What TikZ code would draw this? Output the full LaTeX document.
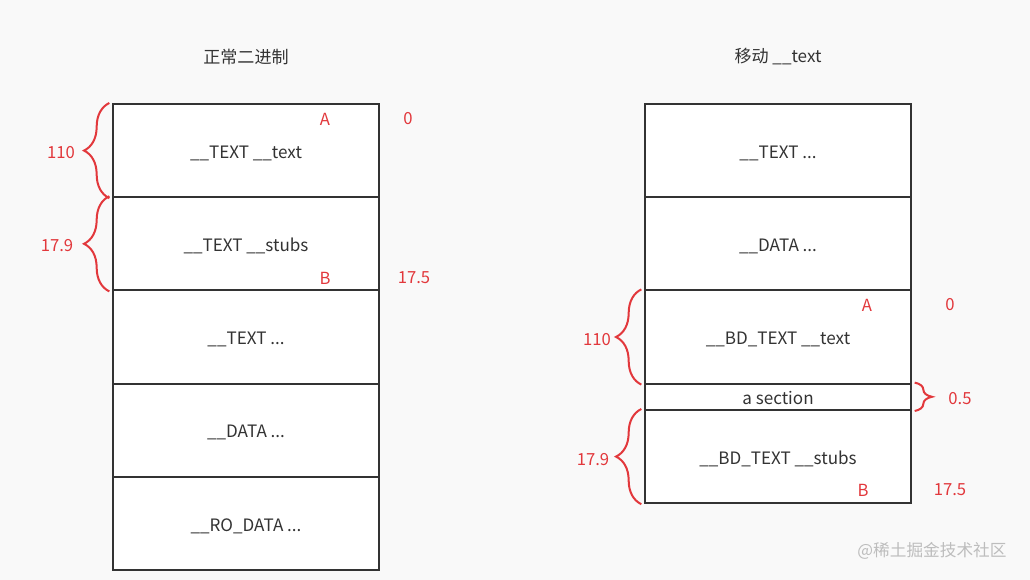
\documentclass[tikz,border=0pt]{standalone}
\usepackage{fontspec}
\setmainfont{Noto Sans CJK SC}
\usetikzlibrary{positioning,decorations.pathreplacing}
\definecolor{lineGray}{HTML}{333333}
\definecolor{markRed}{HTML}{E2383C}
\definecolor{bgGray}{HTML}{F9F9F9}
\definecolor{wmGray}{HTML}{BDBDBD}

\begin{document}
\begin{tikzpicture}[x=0.75pt,y=-0.75pt]
	\fill[bgGray] (0,0) rectangle (1030,580);
	\useasboundingbox (0,0) rectangle (1030,580);
		\begin{scope}
            [
                styleSeg/.style={
					draw=lineGray, line width=1.5pt, fill=white,
					minimum width=199.5pt, minimum height=#1, inner sep=0pt,
					text height=11.5pt, text depth=0pt,
					text=lineGray, font=\fontsize{12.8}{14}\selectfont
					},
				styleSeg/.default=69.9pt,
				styleTitle/.style={text=lineGray, font=\fontsize{12.8}{14}\selectfont},
				styleMark/.style={text=markRed, font=\fontsize{12.5}{14}\selectfont, inner sep=0pt},
            ]
			% normal binary
			\node(tTitleL)[styleTitle] at (246,57) {正常二进制};
			\node(lText)[styleSeg] at (246,150.6) {\_\_TEXT \_\_text};
			\node(lStubs)[styleSeg] at (246,243.8) {\_\_TEXT \_\_stubs};
			\node(lTextEtc)[styleSeg] at (246,337) {\_\_TEXT ...};
			\node(lData)[styleSeg] at (246,430.2) {\_\_DATA ...};
			\node(lRoData)[styleSeg] at (246,523.4) {\_\_RO\_DATA ...};

			\node(lA)[styleMark] at (325,119) {A};
			\node(lZero)[styleMark] at (408,119) {0};
			\node(lB)[styleMark] at (325,278) {B};
			\node(lEnd)[styleMark] at (414,278) {17.5};
			\node(lSize1)[styleMark] at (61,153) {110};
			\node(lSize2)[styleMark] at (57,246) {17.9};

			% moved __text
			\node(tTitleR)[styleTitle] at (778,57) {移动 \_\_text};
			\node(rText)[styleSeg] at (778,150.6) {\_\_TEXT ...};
			\node(rData)[styleSeg] at (778,243.8) {\_\_DATA ...};
			\node(rBdText)[styleSeg] at (778,337) {\_\_BD\_TEXT \_\_text};
			\node(rSection)[styleSeg=19.8pt] at (778,396.8) {a section};
			\node(rBdStubs)[styleSeg] at (778,456.6) {\_\_BD\_TEXT \_\_stubs};

			\node(rA)[styleMark] at (867,305) {A};
			\node(rZero)[styleMark] at (950,305) {0};
			\node(rB)[styleMark] at (863,490) {B};
			\node(rEnd)[styleMark] at (950,490) {17.5};
			\node(rSize1)[styleMark] at (597,340) {110};
			\node(rSize0)[styleMark] at (960,399) {0.5};
			\node(rSize2)[styleMark] at (593,460) {17.9};

			\node(wMark)[text=wmGray, font=\fontsize{12.5}{14}\selectfont] at (932,551) {@稀土掘金技术社区};
		\end{scope}
		\begin{scope}
            [brace/.style={draw=markRed, line width=1.5pt, decorate,
				decoration={brace, amplitude=#1, raise=2pt}},
			 brace/.default=19pt]
			\draw[brace] (lText.south west) -- (lText.north west);
			\draw[brace] (lStubs.south west) -- (lStubs.north west);
			\draw[brace] (rBdText.south west) -- (rBdText.north west);
			\draw[brace] (rBdStubs.south west) -- (rBdStubs.north west);
			\draw[brace=13pt] (rSection.north east) -- (rSection.south east);
		\end{scope}
    \end{tikzpicture}
\end{document}
